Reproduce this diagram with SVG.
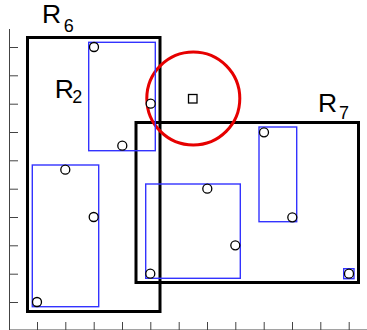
<svg xmlns="http://www.w3.org/2000/svg" width="367" height="330" viewBox="0 0 367 330">
<style>
.ax{stroke:#444;stroke-width:1;fill:none}
.big{fill:none;stroke:#000;stroke-width:3}
.bb{fill:none;stroke:#3333ff;stroke-width:1.4}
.pt{fill:#fff;stroke:#000;stroke-width:1.3}
.lbl{font-family:"Liberation Sans",Arial,sans-serif;fill:#000}
.R{font-size:26.5px}
.sub{font-size:18px}
</style>
<rect width="367" height="330" fill="#fff"/>
<g id="axes">
<path class="ax" d="M9.5 29V330M9 330H367"/>
<path class="ax" d="M9 47.5h9M9 75.8h9M9 104.2h9M9 132.5h9M9 160.8h9M9 189.2h9M9 217.5h9M9 245.8h9M9 274.2h9M9 302.5h9"/>
<path class="ax" d="M37.5 322v8M65.8 322v8M94.2 322v8M122.5 322v8M150.8 322v8M179.2 322v8M207.5 322v8M235.8 322v8M264.2 322v8M292.5 322v8M320.8 322v8M349.2 322v8"/>
</g>
<g id="R6">
<rect class="big" x="27.5" y="37.5" width="132.5" height="274"/>
<text class="lbl" x="42" y="23"><tspan class="R">R</tspan><tspan class="sub" x="63.8" y="31.8">6</tspan></text>
</g>
<g id="R7">
<rect class="big" x="136" y="122.5" width="222.5" height="160"/>
<text class="lbl" x="318" y="112"><tspan class="R">R</tspan><tspan class="sub" x="339" y="118.5">7</tspan></text>
</g>
<g id="R2label">
<text class="lbl" x="54.7" y="97.5"><tspan class="R">R</tspan><tspan class="sub" x="72.3" y="103">2</tspan></text>
</g>
<g id="query">
<circle cx="193.3" cy="98.5" r="46.5" fill="none" stroke="#e60000" stroke-width="3"/>
<rect x="188.5" y="94.5" width="8.5" height="8.5" fill="#fff" stroke="#000" stroke-width="1.3"/>
</g>
<g id="R2">
<rect class="bb" x="88.7" y="42.3" width="66.6" height="108.4"/>
<circle class="pt" cx="94" cy="47" r="4.5"/>
<circle class="pt" cx="150.7" cy="103.7" r="4.5"/>
<circle class="pt" cx="122.3" cy="145.7" r="4.5"/>
</g>
<g id="leaf1">
<rect class="bb" x="32.3" y="165" width="66.4" height="141.7"/>
<circle class="pt" cx="65.3" cy="169.7" r="4.5"/>
<circle class="pt" cx="93.7" cy="217" r="4.5"/>
<circle class="pt" cx="37" cy="302" r="4.5"/>
</g>
<g id="leaf2">
<rect class="bb" x="145.7" y="184" width="94.6" height="94.3"/>
<circle class="pt" cx="207.3" cy="188.7" r="4.5"/>
<circle class="pt" cx="235.3" cy="245.3" r="4.5"/>
<circle class="pt" cx="150.3" cy="273.7" r="4.5"/>
</g>
<g id="leaf3">
<rect class="bb" x="259" y="127" width="37.7" height="94.7"/>
<circle class="pt" cx="264" cy="132.3" r="4.5"/>
<circle class="pt" cx="292.3" cy="217.3" r="4.5"/>
</g>
<g id="leaf4">
<rect class="bb" x="343.7" y="268.7" width="10.3" height="10"/>
<circle class="pt" cx="349" cy="273.7" r="4.5"/>
</g>
<g id="connectors"/>
</svg>
